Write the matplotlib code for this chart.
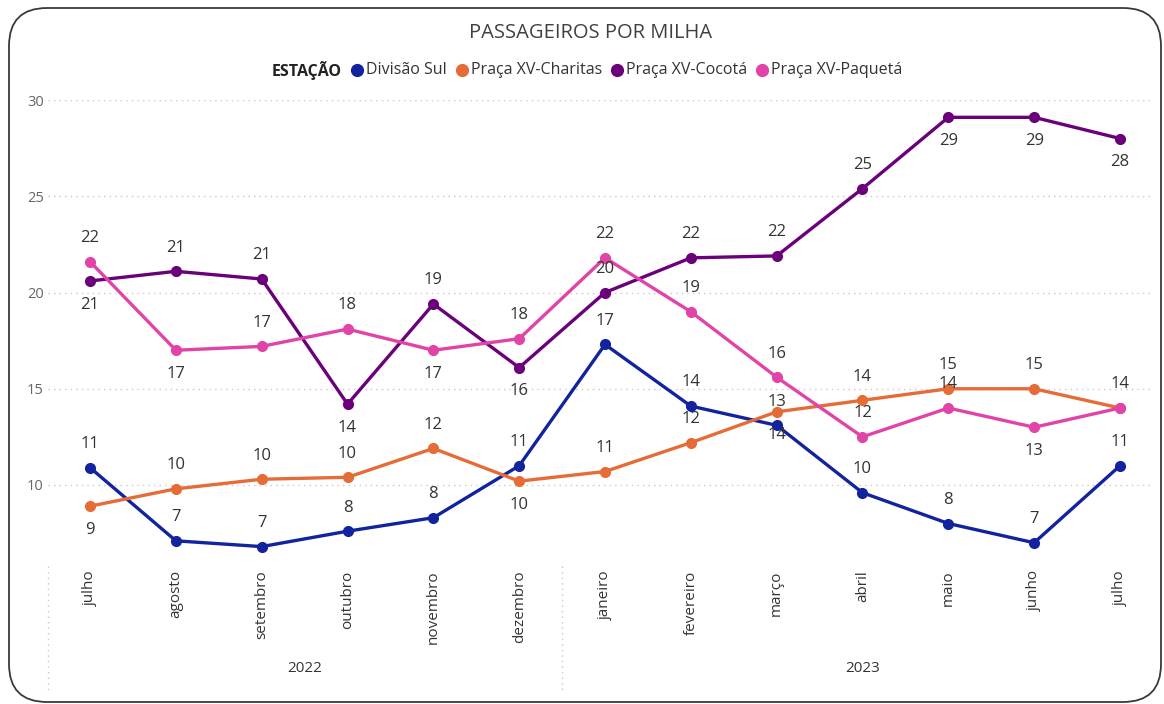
import matplotlib
matplotlib.use("Agg")
import matplotlib.pyplot as plt
from matplotlib.patches import FancyBboxPatch

# data
months = ["julho", "agosto", "setembro", "outubro", "novembro", "dezembro",
          "janeiro", "fevereiro", "março", "abril", "maio", "junho", "julho"]
years = ["2022", "2023"]
year_sizes = [6, 7]

divisao_sul = [10.9, 7.1, 6.8, 7.6, 8.3, 11.0, 17.3, 14.1, 13.1, 9.6, 8.0, 7.0, 11.0]
charitas = [8.9, 9.8, 10.3, 10.4, 11.9, 10.2, 10.7, 12.2, 13.8, 14.4, 15.0, 15.0, 14.0]
cocota = [20.6, 21.1, 20.7, 14.2, 19.4, 16.1, 20.0, 21.8, 21.9, 25.4, 29.1, 29.1, 28.0]
paqueta = [21.6, 17.0, 17.2, 18.1, 17.0, 17.6, 21.8, 19.0, 15.6, 12.5, 14.0, 13.0, 14.0]

series_names = ["Divisão Sul", "Praça XV-Charitas", "Praça XV-Cocotá", "Praça XV-Paquetá"]
series_values = [divisao_sul, charitas, cocota, paqueta]
colors = ["#12239E", "#E66C37", "#6B007B", "#E044A7"]

# label placement: 1 above, -1 below, 0 hidden
label_side = [
    [1] * 13,
    [-1, 1, 1, 1, 1, -1, 1, 1, -1, 1, 1, 1, 1],
    [-1, 1, 1, -1, 1, -1, 1, 1, 1, 1, -1, -1, -1],
    [1, -1, 1, 1, -1, 1, 1, 1, 1, 1, 1, -1, 0],
]

plt.rcParams["font.family"] = ["Open Sans", "DejaVu Sans"]

W, H = 1164, 704
fig = plt.figure(figsize=(W / 100, H / 100), dpi=100)

# background layer in pixel coordinates
bg = fig.add_axes([0, 0, 1, 1])
bg.set_xlim(0, W)
bg.set_ylim(H, 0)
bg.axis("off")
bg.add_patch(FancyBboxPatch((9, 8), 1152, 694, boxstyle="round,pad=0,rounding_size=38",
                            fc="white", ec="#3a3a3a", lw=1.3))

# main plot
px_left, px_right, px_top, px_bottom = 48, 1150, 100, 562
ax = fig.add_axes([px_left / W, 1 - px_bottom / H,
                   (px_right - px_left) / W, (px_bottom - px_top) / H])
ax.patch.set_alpha(0)
x = list(range(len(months)))
for vals, col in zip(series_values, colors):
    ax.plot(x, vals, color=col, lw=2.4, marker="o", ms=7, zorder=3)

ax.set_xlim(-0.49, 12.35)
ax.set_ylim(6.0, 30)
ax.set_yticks([10, 15, 20, 25, 30])
ax.set_yticklabels(["10", "15", "20", "25", "30"], color="#666666", fontsize=10.5)
ax.tick_params(axis="y", length=0, pad=3)
ax.grid(axis="y", ls=(0, (1, 3)), color="#c8c8c8", lw=1)
ax.set_xticks(x)
ax.set_xticklabels(months, rotation=90, va="top", fontsize=11, color="#333333")
ax.tick_params(axis="x", length=0, pad=6)
for s in ax.spines.values():
    s.set_visible(False)

# data labels
for vals, sides in zip(series_values, label_side):
    for i, (v, sd) in enumerate(zip(vals, sides)):
        if sd == 0:
            continue
        ax.annotate(f"{round(v):d}", (i, v), xytext=(0, 17 * sd), textcoords="offset points",
                    ha="center", va="center", fontsize=12, color="#333333", zorder=4)

# year group labels and separators
pos = 0
sep_px = [px_left]
for yr, n in zip(years, year_sizes):
    center = pos + (n - 1) / 2
    cx = ax.transData.transform((center, 0))[0]
    bg.text(cx, 669, yr, ha="center", va="center", fontsize=11, color="#333333")
    pos += n
    if pos < len(months):
        bx = ax.transData.transform((pos - 0.5, 0))[0]
        sep_px.append(bx)
for sx in sep_px:
    bg.plot([sx, sx], [566, 690], ls=(0, (1, 3)), color="#c8c8c8", lw=1)

# title
bg.text(591, 33, "PASSAGEIROS POR MILHA", ha="center", va="center",
        fontsize=14.5, color="#404040")

# legend built inline
fig.canvas.draw()
renderer = fig.canvas.get_renderer()
items = []
t = bg.text(0, 70, "ESTAÇÃO", ha="left", va="center", fontsize=11.5,
            fontweight="bold", color="#222222")
items.append(("title", t))
for name, col in zip(series_names, colors):
    t = bg.text(0, 70, name, ha="left", va="center", fontsize=11.5, color="#333333")
    items.append((col, t))
widths = [t.get_window_extent(renderer).width for _, t in items]
dot_w, gap_before, gap_after = 10, 10, 4
total = sum(widths) + len(series_names) * (dot_w + gap_before + gap_after)
cur = 587 - total / 2
for (kind, t), w in zip(items, widths):
    if kind != "title":
        cur += gap_before
        bg.plot(cur + dot_w / 2, 70, "o", ms=8.5, color=kind)
        cur += dot_w + gap_after
    t.set_x(cur)
    cur += w

fig.savefig("out.png", dpi=100)
